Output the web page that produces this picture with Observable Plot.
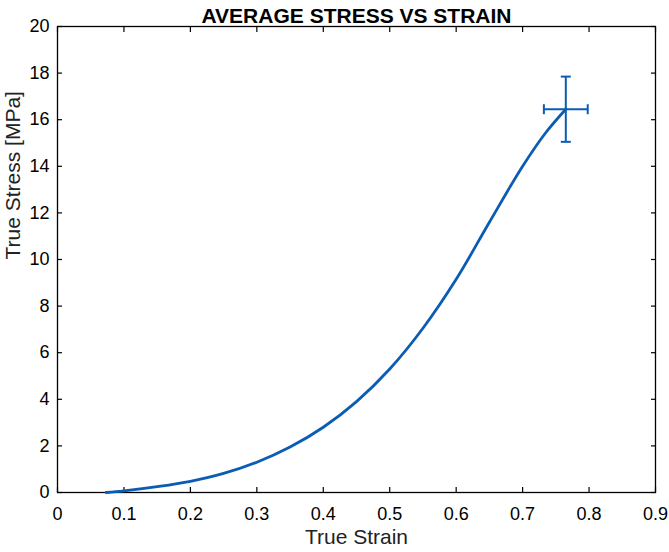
<!DOCTYPE html>
<html>
<head>
<meta charset="utf-8">
<script src="https://cdn.jsdelivr.net/npm/d3@7"></script>
<script src="https://cdn.jsdelivr.net/npm/@observablehq/plot@0.6"></script>
<style>
  html, body { margin: 0; padding: 0; background: #fff; }
  #chart svg { display: block; }
</style>
</head>
<body>
<div id="chart"></div>
<script>
// ---- data ----
const strain = [0.073, 0.1, 0.15, 0.2, 0.25, 0.3, 0.35, 0.4, 0.45, 0.5, 0.55, 0.6, 0.65, 0.7, 0.735, 0.765];
const stress = [0, 0.07, 0.25, 0.48, 0.82, 1.3, 1.95, 2.8, 3.9, 5.3, 7.05, 9.15, 11.6, 14.0, 15.45, 16.45];
const errCenterX = [0.765];
const errCenterY = [16.45];
const errHalfX = [0.033];
const errHalfY = [1.4];
const xTicks = [0, 0.1, 0.2, 0.3, 0.4, 0.5, 0.6, 0.7, 0.8, 0.9];
const yTicks = [0, 2, 4, 6, 8, 10, 12, 14, 16, 18, 20];
const titleText = "AVERAGE STRESS VS STRAIN";
const xLabel = "True Strain";
const yLabel = "True Stress [MPa]";

const curve = strain.map((s, i) => ({x: s, y: stress[i]}));
const err = errCenterX.map((cx, i) => ({
  cx, cy: errCenterY[i],
  x1: cx - errHalfX[i], x2: cx + errHalfX[i],
  y1: errCenterY[i] - errHalfY[i], y2: errCenterY[i] + errHalfY[i]
}));

const blue = "#0b5cb3";
const font = "'Liberation Sans', Arial, Helvetica, sans-serif";

const hCap = {draw(ctx) { ctx.moveTo(-5, 0); ctx.lineTo(5, 0); }};
const vCap = {draw(ctx) { ctx.moveTo(0, -5); ctx.lineTo(0, 5); }};

const chart = Plot.plot({
  width: 669,
  height: 552,
  marginLeft: 57,
  marginRight: 14,
  marginTop: 26,
  marginBottom: 60,
  style: {fontFamily: font, fontSize: "18px", color: "#000", background: "#fff"},
  x: {domain: [0, 0.9]},
  y: {domain: [0, 20]},
  marks: [
    Plot.frame({stroke: "#000", strokeWidth: 1.3}),
    // tick labels
    Plot.axisX(xTicks, {anchor: "bottom", tickSize: 0, tickPadding: 15, tickFormat: d => String(d), fontSize: 18, label: null}),
    Plot.axisY(yTicks, {anchor: "left", tickSize: 0, tickPadding: 8, tickFormat: d => String(d), fontSize: 18, label: null}),
    // inward ticks on all sides
    Plot.axisX(xTicks, {anchor: "bottom", tickSize: 5, dy: -5, text: null, label: null, strokeWidth: 1.2}),
    Plot.axisX(xTicks, {anchor: "top", tickSize: 5, dy: 5, text: null, label: null, strokeWidth: 1.2}),
    Plot.axisY(yTicks, {anchor: "left", tickSize: 5, dx: 5, text: null, label: null, strokeWidth: 1.2}),
    Plot.axisY(yTicks, {anchor: "right", tickSize: 5, dx: -5, text: null, label: null, strokeWidth: 1.2}),
    // curve
    Plot.line(curve, {x: "x", y: "y", stroke: blue, strokeWidth: 2.8, curve: "catmull-rom"}),
    // error bars
    Plot.link(err, {x1: "x1", x2: "x2", y1: "cy", y2: "cy", stroke: blue, strokeWidth: 2}),
    Plot.link(err, {x1: "cx", x2: "cx", y1: "y1", y2: "y2", stroke: blue, strokeWidth: 2}),
    Plot.dot(err, {x: "cx", y: "y1", symbol: hCap, stroke: blue, strokeWidth: 2, r: 3}),
    Plot.dot(err, {x: "cx", y: "y2", symbol: hCap, stroke: blue, strokeWidth: 2, r: 3}),
    Plot.dot(err, {x: "x1", y: "cy", symbol: vCap, stroke: blue, strokeWidth: 2, r: 3}),
    Plot.dot(err, {x: "x2", y: "cy", symbol: vCap, stroke: blue, strokeWidth: 2, r: 3}),
    // title and axis labels
    Plot.text([titleText], {frameAnchor: "top", dy: -18, text: d => d, fontSize: 21, fontWeight: "bold", fill: "#000"}),
    Plot.text([xLabel], {frameAnchor: "bottom", dy: 51, text: d => d, fontSize: 21, fill: "#222"}),
    Plot.text([yLabel], {frameAnchor: "left", dx: -44, rotate: -90, text: d => d, fontSize: 21, fill: "#222"})
  ]
});
document.getElementById("chart").appendChild(chart);
</script>
</body>
</html>
